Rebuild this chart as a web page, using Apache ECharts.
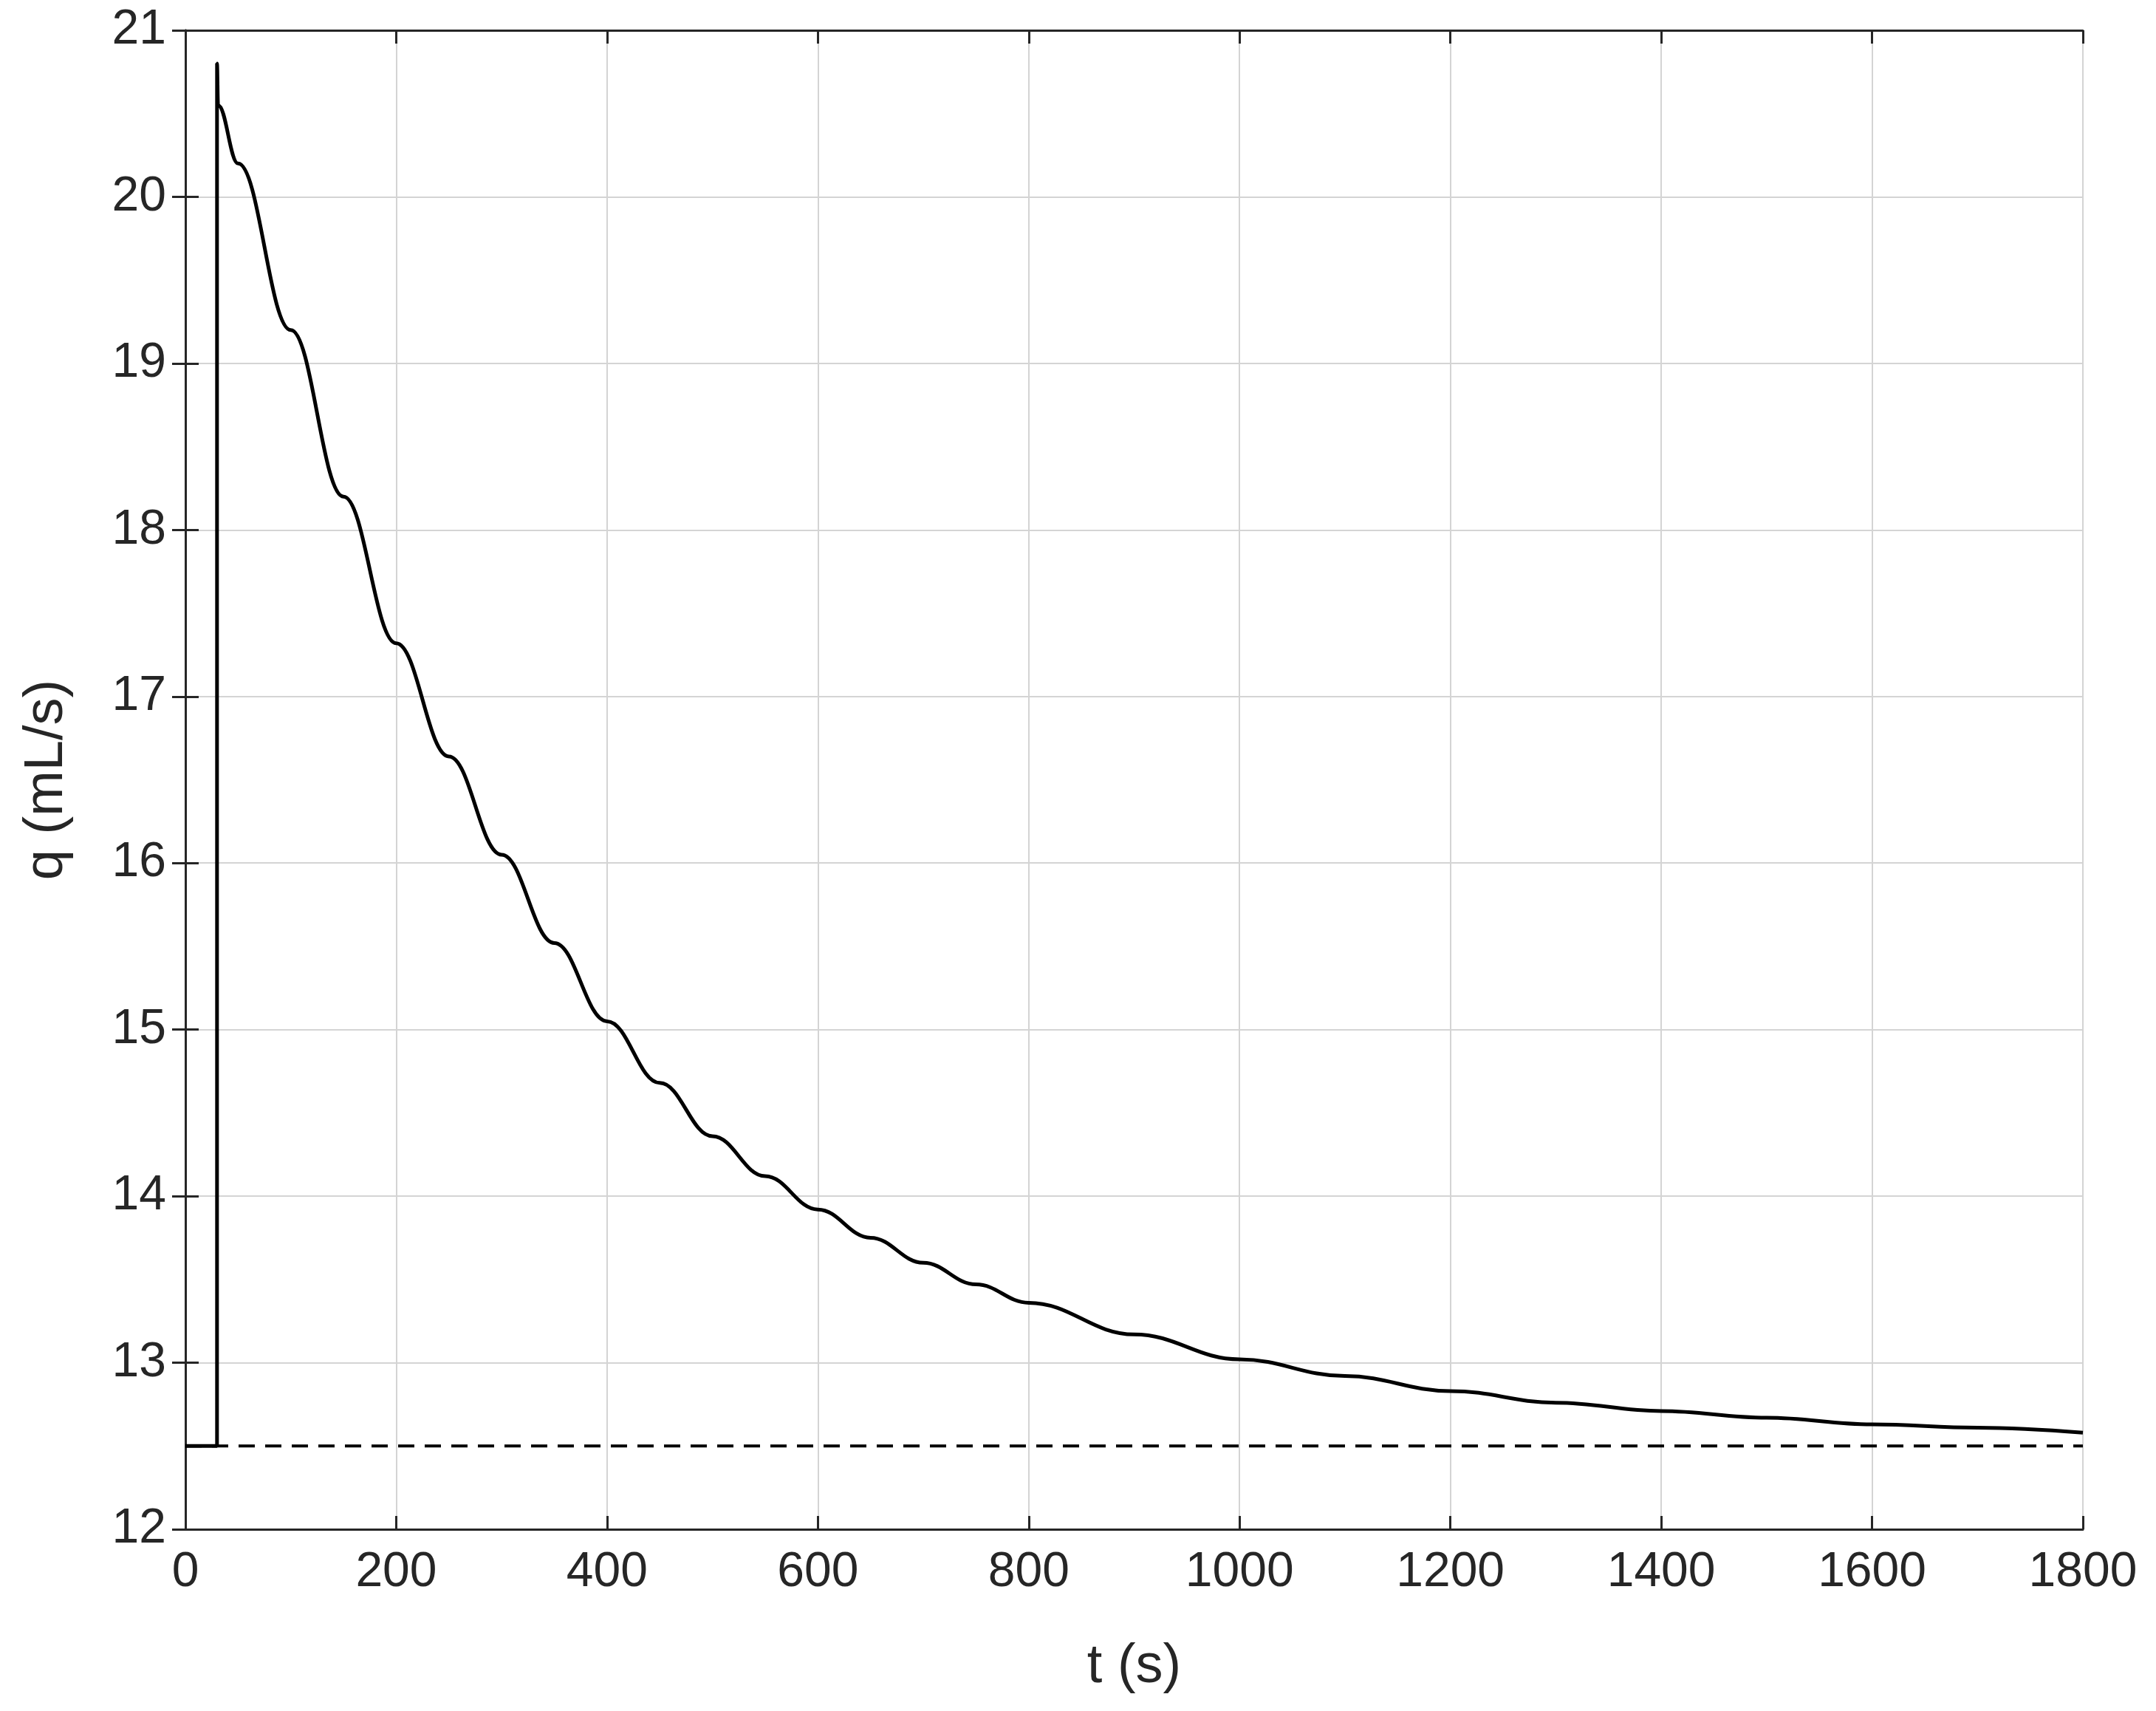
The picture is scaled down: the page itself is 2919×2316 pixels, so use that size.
<!DOCTYPE html>
<html>
<head>
<meta charset="utf-8">
<script src="https://cdn.jsdelivr.net/npm/echarts@6/dist/echarts.min.js"></script>
<style>html,body{margin:0;background:#fff}#chart{width:2919px;height:2316px}</style>
</head>
<body>
<div id="chart"></div>
<script>
// flow response
var tTimes = [0, 30, 30, 31, 50, 100, 150, 200, 250, 300, 350, 400, 450, 500, 550, 600, 650, 700, 750, 800, 900, 1000, 1100, 1200, 1300, 1400, 1500, 1600, 1700, 1800];
var qValues = [12.5, 12.5, 20.8, 20.55, 20.2, 19.2, 18.2, 17.32, 16.64, 16.05, 15.52, 15.05, 14.68, 14.36, 14.12, 13.92, 13.75, 13.6, 13.47, 13.36, 13.17, 13.02, 12.92, 12.83, 12.76, 12.71, 12.67, 12.63, 12.61, 12.58];
var baseTimes = [0, 1800];
var baseValues = [12.5, 12.5];

var chart = echarts.init(document.getElementById('chart'));
var font = 'Arial, "Liberation Sans", sans-serif';
function pairs(xs, ys) { return xs.map(function (x, i) { return [x, ys[i]]; }); }
var axisLine = { show: true, lineStyle: { color: '#262626', width: 3 } };
var tick = { show: true, inside: true, length: 18, lineStyle: { color: '#262626', width: 3 } };
var grid = { show: true, lineStyle: { color: '#d4d4d4', width: 2 } };
var label = { fontSize: 66, color: '#262626', fontFamily: font, margin: 26, formatter: function (v) { return String(v); } };
chart.setOption({
    animation: false,
    grid: { left: 251, right: 99, top: 41, bottom: 246 },
    xAxis: [{
        type: 'value', min: 0, max: 1800, interval: 200, position: 'bottom',
        name: 't (s)', nameLocation: 'middle', nameGap: 150,
        nameTextStyle: { fontSize: 74, color: '#262626', fontFamily: font },
        axisLabel: label, axisLine: axisLine, axisTick: tick, splitLine: grid
    }, {
        type: 'value', min: 0, max: 1800, interval: 200, position: 'top',
        axisLabel: { show: false }, axisLine: axisLine, axisTick: tick, splitLine: { show: false }
    }],
    yAxis: [{
        type: 'value', min: 12, max: 21, interval: 1, position: 'left',
        name: 'q (mL/s)', nameLocation: 'middle', nameGap: 150,
        nameTextStyle: { fontSize: 74, color: '#262626', fontFamily: font },
        axisLabel: label, axisLine: axisLine, axisTick: tick, splitLine: grid
    }, {
        type: 'value', min: 12, max: 21, interval: 1, position: 'right',
        axisLabel: { show: false }, axisLine: axisLine, axisTick: tick, splitLine: { show: false }
    }],
    series: [{
        type: 'line', data: pairs(baseTimes, baseValues), showSymbol: false,
        lineStyle: { color: '#000', width: 4, type: [22, 14] }
    }, {
        type: 'line', data: pairs(tTimes, qValues), showSymbol: false,
        smooth: 0.4, smoothMonotone: 'x',
        lineStyle: { color: '#000', width: 5 }
    }]
});
</script>
</body>
</html>
